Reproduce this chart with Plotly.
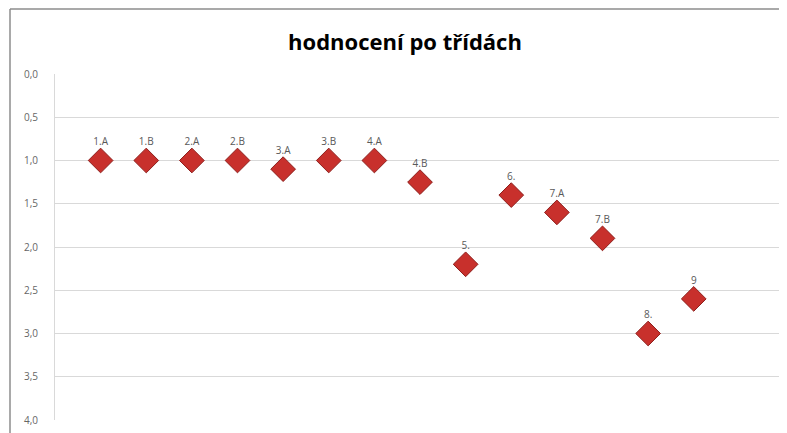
import plotly.graph_objects as go

labels = ["1.A", "1.B", "2.A", "2.B", "3.A", "3.B", "4.A", "4.B", "5.", "6.", "7.A", "7.B", "8.", "9"]
x_pos = [1, 2, 3, 4, 5, 6, 7, 8, 9, 10, 11, 12, 13, 14]
grades = [1.0, 1.0, 1.0, 1.0, 1.1, 1.0, 1.0, 1.25, 2.2, 1.4, 1.6, 1.9, 3.0, 2.6]
y_ticks = [0, 0.5, 1.0, 1.5, 2.0, 2.5, 3.0, 3.5, 4.0]

OFF = 8  # page body margin
W, H = 787 - OFF, 433 - OFF
L, R, T, B = 55 - OFF, 2, 74 - OFF, 13
pw, ph = W - L - R, H - T - B

fig = go.Figure()
fig.add_trace(go.Scatter(
    x=x_pos, y=grades, mode="markers+text", text=labels,
    textposition="top center",
    textfont=dict(family="Open Sans, Arial, sans-serif", size=10, color="#595959"),
    marker=dict(symbol="diamond", size=19, color="#C8302C",
                line=dict(color="#8E1F1C", width=1)),
    showlegend=False, cliponaxis=False,
))

fig.update_layout(
    width=W, height=H,
    margin=dict(l=L, r=R, t=T, b=B),
    paper_bgcolor="white", plot_bgcolor="white",
    separators=", ",
    title=dict(text="<b>hodnocení po třídách</b>", x=(405 - OFF) / W, xanchor="center",
               y=1 - (42 - OFF) / H, yanchor="middle",
               font=dict(family="Open Sans, Arial, sans-serif", size=22, color="#000000")),
    xaxis=dict(range=[0, 16], visible=False, showgrid=False, zeroline=False),
    yaxis=dict(range=[4, 0], tickvals=y_ticks, tickformat=".1f",
               showgrid=True, gridcolor="#D9D9D9", gridwidth=1,
               showline=True, linecolor="#D9D9D9", linewidth=1,
               zeroline=False, ticks="", ticklabelstandoff=14,
               tickfont=dict(family="Open Sans, Arial, sans-serif", size=10, color="#666666")),
)

# outer chart border (left and top)
bx = (10 - 55) / pw
by = 1 + (74 - 9) / ph
fig.add_shape(type="line", xref="paper", yref="paper", x0=bx, x1=bx, y0=-0.1, y1=by,
              line=dict(color="#8C8C8C", width=1.5))
fig.add_shape(type="line", xref="paper", yref="paper", x0=bx, x1=1.1, y0=by, y1=by,
              line=dict(color="#8C8C8C", width=1.5))

fig.write_html("out.html", config={"displayModeBar": False})
